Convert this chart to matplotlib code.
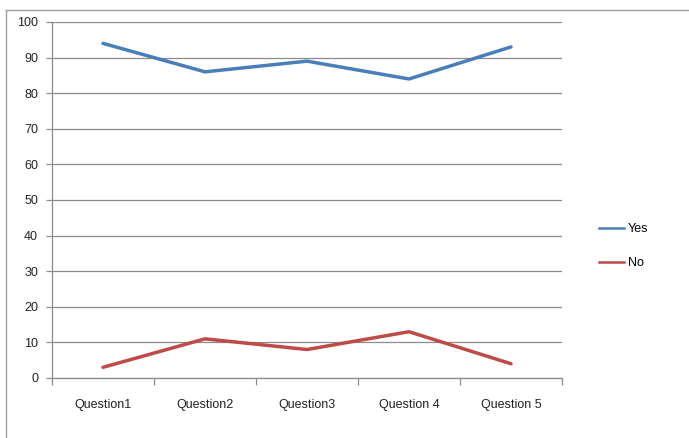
import matplotlib
matplotlib.use("Agg")
import matplotlib.pyplot as plt
from matplotlib.lines import Line2D
import numpy as np

questions = ["Question1", "Question2", "Question3", "Question 4", "Question 5"]
yes = [94, 86, 89, 84, 93]
no = [3, 11, 8, 13, 4]

blue = "#4a7ebb"
red = "#be4b48"
grid = "#8c8c8c"

plt.rcParams["font.family"] = ["Liberation Sans Narrow", "Liberation Sans", "DejaVu Sans"]

fig = plt.figure(figsize=(6.89, 4.38), dpi=100)
ax = fig.add_axes([52 / 689, 1 - 378 / 438, 510 / 689, 356 / 438])

x = np.arange(len(questions))
ax.plot(x, yes, color=blue, lw=2.5, solid_capstyle="round", solid_joinstyle="round", label="Yes")
ax.plot(x, no, color=red, lw=2.5, solid_capstyle="round", solid_joinstyle="round", label="No")

ax.set_xlim(-0.5, len(questions) - 0.5)
ax.set_ylim(0, 100)
ax.set_yticks(np.arange(0, 101, 10))
ax.yaxis.grid(True, color=grid, lw=0.9)
ax.set_axisbelow(True)

# category labels sit between the boundary ticks
ax.set_xticks(x)
ax.set_xticklabels(questions)
ax.set_xticks(np.arange(-0.5, len(questions)), minor=True)
ax.tick_params(axis="x", which="major", length=0, pad=15, labelsize=9, labelcolor="#222222")
ax.tick_params(axis="x", which="minor", length=5, color=grid, width=0.9)
ax.tick_params(axis="y", length=4, color=grid, width=0.9, labelsize=9, labelcolor="#222222", pad=6)

for side in ["top", "right"]:
    ax.spines[side].set_visible(False)
for side in ["left", "bottom"]:
    ax.spines[side].set_color(grid)
    ax.spines[side].set_linewidth(0.9)

handles = [Line2D([], [], color=blue, lw=1.8), Line2D([], [], color=red, lw=1.8)]
fig.legend(handles, ["Yes", "No"], loc="center left", bbox_to_anchor=(588 / 689, 1 - 246 / 438),
           frameon=False, fontsize=9, handlelength=2.0, handletextpad=0.3, labelspacing=1.75)

# outer chart border
fig.add_artist(Line2D([6 / 689, 6 / 689], [0, 1 - 10 / 438], transform=fig.transFigure, color="#a0a0a0", lw=1))
fig.add_artist(Line2D([6 / 689, 1], [1 - 10 / 438, 1 - 10 / 438], transform=fig.transFigure, color="#a0a0a0", lw=1))

fig.savefig("out.png", dpi=100)
